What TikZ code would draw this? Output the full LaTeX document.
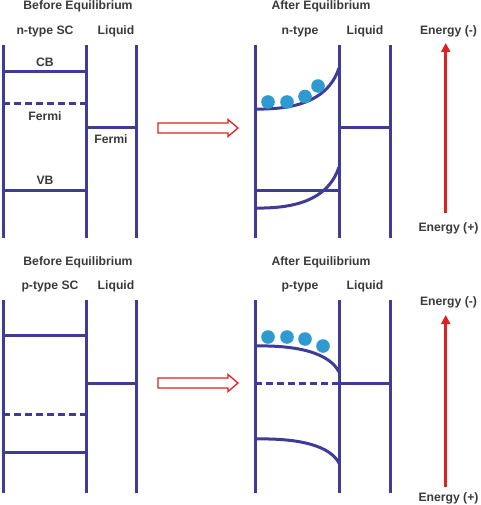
\documentclass[tikz,border=0pt]{standalone}
\usepackage{fontspec}
\setmainfont{Liberation Sans}
\usetikzlibrary{arrows.meta}
\definecolor{bandblue}{HTML}{3E3C96}
\definecolor{eblue}{HTML}{2E9AD0}
\definecolor{txtgray}{HTML}{3A3A3A}
\definecolor{arrred}{HTML}{DD2222}

\begin{document}
\begin{tikzpicture}[x=1pt, y=-1pt,
  band/.style={bandblue, line width=3pt},
  lbl/.style={text=txtgray, font=\bfseries\fontsize{12.2}{14}\selectfont, inner sep=0pt, anchor=base},
  electron/.style={fill=eblue, draw=none},
  energy/.style={arrred, line width=3pt, -{Triangle[length=9pt,width=9pt]}}]
\useasboundingbox (0,0) rectangle (480,505);

% before equilibrium, n-type
\node [lbl] (bn) at (78,10) {Before Equilibrium};
\node [lbl] (nsc) at (45,34.3) {n-type SC};
\node [lbl] (liq1) at (116,34.3) {Liquid};
\draw [band] (3,45) -- (3,238);
\draw [band] (86,45) -- (86,238);
\draw [band] (136,45) -- (136,238);
\draw [band] (3,72) -- (86,72);
\draw [band, dash pattern=on 7pt off 4pt] (3,104) -- (86,104);
\draw [band] (86,128) -- (136,128);
\draw [band] (3,190) -- (86,190);
\node [lbl] (cb) at (45,66.7) {CB};
\node [lbl] (fsc) at (45,120.7) {Fermi};
\node [lbl] (fliq) at (111,143) {Fermi};
\node [lbl] (vb) at (45,184.3) {VB};
\draw [arrred, line width=1.3pt, fill=white] (158,123) -- (228,123) -- (228,119.5) -- (238,128) -- (228,136.5) -- (228,133) -- (158,133) -- cycle;

% after equilibrium, n-type
\node [lbl] (an) at (321,10) {After Equilibrium};
\node [lbl] (ntype) at (300,34.3) {n-type};
\node [lbl] (liq2) at (365,34.3) {Liquid};
\draw [band] (255,45) -- (255,238);
\draw [band] (339,45) -- (339,238);
\draw [band] (390,45) -- (390,238);
\draw [band] (255,109) .. controls (305,110) and (330,95) .. (339,68);
\draw [band] (339,128) -- (390,128);
\draw [band] (255,190) -- (339,190);
\draw [band] (255,208) .. controls (305,209) and (330,194) .. (339,167);
\foreach \ex/\ey in {268/102, 287/102, 305/96.5, 318/86}
  \fill [electron] (\ex,\ey) circle (6.8pt);
\node [lbl] (eminus1) at (448.5,35) {Energy (-)};
\node [lbl] (eplus1) at (448.5,231.8) {Energy (+)};
\draw [energy] (445.7,213) -- (445.7,43);

% before equilibrium, p-type
\node [lbl] (bp) at (78,265) {Before Equilibrium};
\node [lbl] (psc) at (50,289.3) {p-type SC};
\node [lbl] (liq3) at (116,289.3) {Liquid};
\draw [band] (3,300) -- (3,493);
\draw [band] (86,300) -- (86,493);
\draw [band] (136,300) -- (136,493);
\draw [band] (3,335) -- (86,335);
\draw [band] (86,383) -- (136,383);
\draw [band, dash pattern=on 7pt off 4pt] (3,414) -- (86,414);
\draw [band] (3,452) -- (86,452);
\draw [arrred, line width=1.3pt, fill=white] (158,378) -- (228,378) -- (228,374.5) -- (238,383) -- (228,391.5) -- (228,388) -- (158,388) -- cycle;

% after equilibrium, p-type
\node [lbl] (ap) at (321,265) {After Equilibrium};
\node [lbl] (ptype) at (300,289.3) {p-type};
\node [lbl] (liq4) at (365,289.3) {Liquid};
\draw [band] (255,300) -- (255,493);
\draw [band] (339,300) -- (339,493);
\draw [band] (390,300) -- (390,493);
\draw [band] (255,346) .. controls (300,345) and (330,354) .. (339,372);
\draw [band, dash pattern=on 7pt off 4pt] (255,383) -- (339,383);
\draw [band] (339,383) -- (390,383);
\draw [band] (255,439) .. controls (300,438) and (330,446) .. (339,463);
\foreach \ex/\ey in {268/337, 287/337, 305/339, 323/346}
  \fill [electron] (\ex,\ey) circle (6.8pt);
\node [lbl] (eminus2) at (448.5,305) {Energy (-)};
\node [lbl] (eplus2) at (448.5,501) {Energy (+)};
\draw [energy] (445.7,487) -- (445.7,315);
\end{tikzpicture}
\end{document}
